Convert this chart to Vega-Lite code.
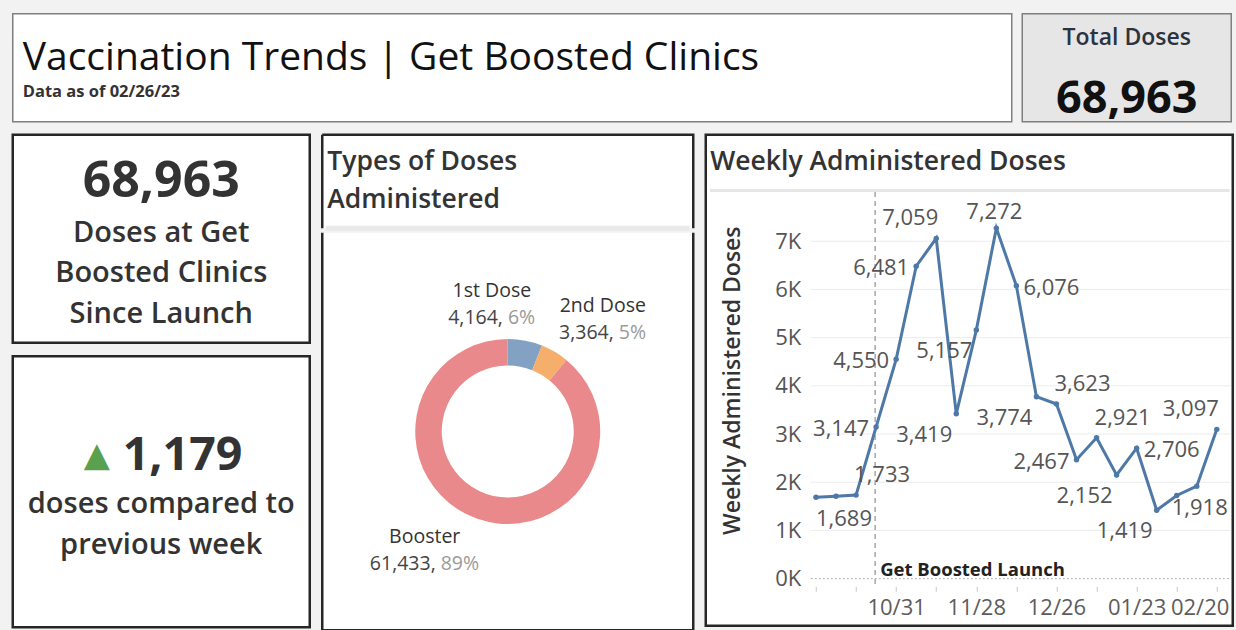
{
  "$schema": "https://vega.github.io/schema/vega-lite/v6.json",
  "background": "#f2f2f2",
  "padding": {"left": 10.75, "top": 12.75, "right": 5, "bottom": 5},
  "spacing": 10,
  "config": {
    "font": "Open Sans",
    "view": {"stroke": "#262626", "strokeWidth": 2.5, "fill": "white"},
    "title": {"anchor": "start", "frame": "group"}
  },
  "datasets": {
    "weekly": [
      {"week": "2022-10-03", "doses": 1689},
      {"week": "2022-10-10", "doses": 1710},
      {"week": "2022-10-17", "doses": 1733},
      {"week": "2022-10-24", "doses": 3147},
      {"week": "2022-10-31", "doses": 4550},
      {"week": "2022-11-07", "doses": 6481},
      {"week": "2022-11-14", "doses": 7059},
      {"week": "2022-11-21", "doses": 3419},
      {"week": "2022-11-28", "doses": 5157},
      {"week": "2022-12-05", "doses": 7272},
      {"week": "2022-12-12", "doses": 6076},
      {"week": "2022-12-19", "doses": 3774},
      {"week": "2022-12-26", "doses": 3623},
      {"week": "2023-01-02", "doses": 2467},
      {"week": "2023-01-09", "doses": 2921},
      {"week": "2023-01-16", "doses": 2152},
      {"week": "2023-01-23", "doses": 2706},
      {"week": "2023-01-30", "doses": 1419},
      {"week": "2023-02-06", "doses": 1725},
      {"week": "2023-02-13", "doses": 1918},
      {"week": "2023-02-20", "doses": 3097}
    ],
    "doseTypes": [
      {"dose": "1st Dose", "count": 4164},
      {"dose": "2nd Dose", "count": 3364},
      {"dose": "Booster", "count": 61433}
    ],
    "kpi": [{"total": 68963, "change": 1179}]
  },
  "vconcat": [
    {
      "hconcat": [
        {
          "width": 999,
          "height": 108,
          "view": {"stroke": "#7f7f7f", "strokeWidth": 1.5, "fill": "white"},
          "title": {
            "text": "Vaccination Trends | Get Boosted Clinics",
            "subtitle": "Data as of 02/26/23",
            "offset": -87,
            "dx": 10,
            "fontSize": 39,
            "fontWeight": 400,
            "color": "#111111",
            "subtitleFontSize": 16.5,
            "subtitleFontWeight": "bold",
            "subtitleColor": "#333333",
            "subtitlePadding": 6
          },
          "data": {"name": "kpi"},
          "mark": {"type": "text", "text": ""},
          "encoding": {}
        },
        {
          "width": 209,
          "height": 108,
          "view": {"stroke": "#7f7f7f", "strokeWidth": 1.5, "fill": "#e6e6e6"},
          "data": {"name": "kpi"},
          "layer": [
            {
              "mark": {"type": "text", "text": "Total Doses", "dy": -29.5, "fontSize": 23, "fontWeight": 600, "color": "#2b3340"},
              "encoding": {}
            },
            {
              "mark": {"type": "text", "dy": 31, "fontSize": 45, "fontWeight": "bold", "color": "#111111"},
              "encoding": {"text": {"field": "total", "type": "quantitative", "format": ","}}
            }
          ]
        }
      ],
      "spacing": 8.5
    },
    {
      "hconcat": [
        {
          "vconcat": [
            {
              "width": 297,
              "height": 208,
              "view": {"stroke": "#262626", "strokeWidth": 2.5, "fill": "white"},
              "data": {"name": "kpi"},
              "layer": [
                {
                  "mark": {"type": "text", "dy": -57, "fontSize": 50, "fontWeight": "bold", "color": "#333333"},
                  "encoding": {"text": {"field": "total", "type": "quantitative", "format": ","}}
                },
                {
                  "mark": {"type": "text", "text": "Doses at Get\nBoosted Clinics\nSince Launch", "lineBreak": "\n", "lineHeight": 40.5, "dy": -6, "fontSize": 29, "fontWeight": 600, "color": "#333333"},
                  "encoding": {}
                }
              ]
            },
            {
              "width": 297,
              "height": 271,
              "view": {"stroke": "#262626", "strokeWidth": 2.5, "fill": "white"},
              "data": {"name": "kpi"},
              "layer": [
                {
                  "mark": {"type": "text", "text": "▲", "font": "DejaVu Sans", "fontSize": 34, "color": "#59a14f", "dx": -64.5, "dy": -36},
                  "encoding": {}
                },
                {
                  "mark": {"type": "text", "align": "left", "dx": -38.5, "dy": -36, "fontSize": 46.5, "fontWeight": "bold", "color": "#333333"},
                  "encoding": {"text": {"field": "change", "type": "quantitative", "format": ","}}
                },
                {
                  "mark": {"type": "text", "text": "doses compared to\nprevious week", "lineBreak": "\n", "lineHeight": 41, "dy": 12, "fontSize": 29, "fontWeight": 600, "color": "#333333"},
                  "encoding": {}
                }
              ]
            }
          ],
          "spacing": 9.5
        },
        {
          "vconcat": [
            {
              "width": 371,
              "height": 93.5,
              "view": {"stroke": "#262626", "strokeWidth": 2.5, "fill": "white", "strokeDash": [464.5, 371, 93.5, 0]},
              "title": {"text": ["Types of Doses", "Administered"], "offset": -78.5, "dx": 5, "fontSize": 26.5, "fontWeight": 600, "color": "#333333", "lineHeight": 38},
              "data": {"values": [{}]},
              "mark": {"type": "rule", "color": "#e9e9e9", "strokeWidth": 5},
              "encoding": {
                "y": {"datum": 0, "type": "quantitative", "scale": {"domain": [0, 1]}, "axis": null},
                "x": {"datum": 0.01, "type": "quantitative", "scale": {"domain": [0, 1]}, "axis": null},
                "x2": {"datum": 0.99}
              }
            },
            {
              "width": 371,
              "height": 397.5,
              "view": {"stroke": "#262626", "strokeWidth": 2.5, "fill": "white", "strokeDash": [0, 371, 1166, 0]},
              "data": {"name": "doseTypes"},
              "transform": [{"joinaggregate": [{"op": "sum", "field": "count", "as": "total"}]}],
              "encoding": {
                "theta": {"field": "count", "type": "quantitative", "stack": true},
                "order": {"field": "dose", "type": "ordinal", "sort": "ascending"}
              },
              "layer": [
                {
                  "mark": {"type": "arc", "innerRadius": 66, "outerRadius": 92.5},
                  "encoding": {
                    "color": {"field": "dose", "type": "nominal", "scale": {"domain": ["1st Dose", "2nd Dose", "Booster"], "range": ["#83a1c2", "#f5af6b", "#ea898b"]}, "legend": null}
                  }
                },
                {
                  "mark": {"type": "text", "radius": 128, "dx": -40, "dy": -15, "fontSize": 19.5, "color": "#333333"},
                  "encoding": {"text": {"field": "dose"}, "opacity": {"condition": {"test": "datum.dose === '2nd Dose'", "value": 0}, "value": 1}}
                },
                {
                  "mark": {"type": "text", "radius": 128, "align": "right", "dx": -29, "dy": 12, "fontSize": 19.5, "color": "#444444", "text": {"expr": "format(datum.count, ',') + ','"}},
                  "encoding": {"opacity": {"condition": {"test": "datum.dose === '2nd Dose'", "value": 0}, "value": 1}}
                },
                {
                  "mark": {"type": "text", "radius": 128, "align": "left", "dx": -24, "dy": 12, "fontSize": 19.5, "color": "#9a9a9a", "text": {"expr": "format(datum.count / datum.total, '.0%')"}},
                  "encoding": {"opacity": {"condition": {"test": "datum.dose === '2nd Dose'", "value": 0}, "value": 1}}
                },
                {
                  "mark": {"type": "text", "radius": 130, "dx": 29, "dy": -14, "fontSize": 19.5, "color": "#333333"},
                  "encoding": {"text": {"field": "dose"}, "opacity": {"condition": {"test": "datum.dose === '2nd Dose'", "value": 1}, "value": 0}}
                },
                {
                  "mark": {"type": "text", "radius": 130, "align": "right", "dx": 40, "dy": 13, "fontSize": 19.5, "color": "#444444", "text": {"expr": "format(datum.count, ',') + ','"}},
                  "encoding": {"opacity": {"condition": {"test": "datum.dose === '2nd Dose'", "value": 1}, "value": 0}}
                },
                {
                  "mark": {"type": "text", "radius": 130, "align": "left", "dx": 45, "dy": 13, "fontSize": 19.5, "color": "#9a9a9a", "text": {"expr": "format(datum.count / datum.total, '.0%')"}},
                  "encoding": {"opacity": {"condition": {"test": "datum.dose === '2nd Dose'", "value": 1}, "value": 0}}
                }
              ]
            }
          ],
          "spacing": -2.5
        },
        {
          "width": 527,
          "height": 491,
          "view": {"stroke": "#262626", "strokeWidth": 2.5, "fill": "white"},
          "title": {"text": "Weekly Administered Doses", "offset": -40.5, "dx": 4.5, "fontSize": 26.5, "fontWeight": 600, "color": "#333333"},
          "layer": [
            {
              "data": {"values": [{"g": 1000}, {"g": 2000}, {"g": 3000}, {"g": 4000}, {"g": 5000}, {"g": 6000}, {"g": 7000}]},
              "mark": {"type": "rule", "color": "#ececec", "strokeWidth": 1},
              "encoding": {
                "y": {"field": "g", "type": "quantitative"},
                "x": {"datum": {"year": 2022, "month": 10, "date": 1, "hours": 5, "utc": true}, "type": "temporal", "scale": {"type": "utc"}},
                "x2": {"datum": {"year": 2023, "month": 2, "date": 24, "hours": 19, "utc": true}}
              }
            },
            {
              "data": {"values": [{}]},
              "mark": {"type": "rule", "color": "#b0b0b0", "strokeDash": [2, 2], "strokeWidth": 1},
              "encoding": {
                "y": {"datum": 0, "type": "quantitative"},
                "x": {"datum": {"year": 2022, "month": 10, "date": 1, "hours": 5, "utc": true}, "type": "temporal", "scale": {"type": "utc"}},
                "x2": {"datum": {"year": 2023, "month": 2, "date": 24, "hours": 19, "utc": true}}
              }
            },
            {
              "data": {"values": [{}]},
              "mark": {"type": "rule", "color": "#e6e6e6", "strokeWidth": 3},
              "encoding": {
                "y": {"datum": 8050, "type": "quantitative"},
                "x": {"datum": {"year": 2022, "month": 8, "date": 27, "utc": true}, "type": "temporal", "scale": {"type": "utc"}},
                "x2": {"datum": {"year": 2023, "month": 2, "date": 24, "hours": 12, "utc": true}}
              }
            },
            {
              "data": {"values": [{}]},
              "mark": {"type": "rule", "color": "#a6a6a6", "strokeDash": [5, 4], "strokeWidth": 1.5},
              "encoding": {
                "x": {"datum": {"year": 2022, "month": 10, "date": 23, "hours": 16, "utc": true}, "type": "temporal", "scale": {"type": "utc"}},
                "y": {"datum": 8020, "type": "quantitative"},
                "y2": {"datum": -130}
              }
            },
            {
              "data": {"values": [{}]},
              "mark": {"type": "text", "text": "Get Boosted Launch", "align": "left", "baseline": "alphabetic", "dx": 5, "dy": -3, "fontSize": 18.5, "fontWeight": "bold", "color": "#222222"},
              "encoding": {
                "x": {"datum": {"year": 2022, "month": 10, "date": 23, "hours": 16, "utc": true}, "type": "temporal", "scale": {"type": "utc"}},
                "y": {"datum": 0, "type": "quantitative"}
              }
            },
            {
              "data": {"name": "weekly"},
              "mark": {"type": "line", "color": "#4e79a7", "strokeWidth": 3, "point": {"filled": true, "size": 30, "color": "#4e79a7"}},
              "encoding": {
                "x": {
                  "field": "week",
                  "type": "temporal",
                  "scale": {"type": "utc", "domain": [{"year": 2022, "month": 8, "date": 25, "hours": 12, "utc": true}, {"year": 2023, "month": 2, "date": 25, "hours": 13, "minutes": 40, "utc": true}]},
                  "axis": {
                    "title": null,
                    "values": [
                      {"year": 2022, "month": 10, "date": 3, "utc": true},
                      {"year": 2022, "month": 10, "date": 10, "utc": true},
                      {"year": 2022, "month": 10, "date": 17, "utc": true},
                      {"year": 2022, "month": 10, "date": 24, "utc": true},
                      {"year": 2022, "month": 10, "date": 31, "utc": true},
                      {"year": 2022, "month": 11, "date": 7, "utc": true},
                      {"year": 2022, "month": 11, "date": 14, "utc": true},
                      {"year": 2022, "month": 11, "date": 21, "utc": true},
                      {"year": 2022, "month": 11, "date": 28, "utc": true},
                      {"year": 2022, "month": 12, "date": 5, "utc": true},
                      {"year": 2022, "month": 12, "date": 12, "utc": true},
                      {"year": 2022, "month": 12, "date": 19, "utc": true},
                      {"year": 2022, "month": 12, "date": 26, "utc": true},
                      {"year": 2023, "month": 1, "date": 2, "utc": true},
                      {"year": 2023, "month": 1, "date": 9, "utc": true},
                      {"year": 2023, "month": 1, "date": 16, "utc": true},
                      {"year": 2023, "month": 1, "date": 23, "utc": true},
                      {"year": 2023, "month": 1, "date": 30, "utc": true},
                      {"year": 2023, "month": 2, "date": 6, "utc": true},
                      {"year": 2023, "month": 2, "date": 13, "utc": true},
                      {"year": 2023, "month": 2, "date": 20, "utc": true}
                    ],
                    "labelExpr": "indexof(['10/31','11/28','12/26','01/23','02/20'], utcFormat(datum.value, '%m/%d')) >= 0 ? utcFormat(datum.value, '%m/%d') : ''",
                    "domain": false,
                    "grid": false,
                    "tickColor": "#c8c8c8",
                    "tickSize": 5,
                    "offset": -39.5,
                    "labelPadding": 6,
                    "labelFontSize": 22,
                    "labelColor": "#5c5c5c",
                    "labelFlush": 20,
                    "labelFlushOffset": 12,
                    "labelOverlap": false
                  }
                },
                "y": {
                  "field": "doses",
                  "type": "quantitative",
                  "scale": {"domain": [-977, 9209], "nice": false, "zero": false},
                  "axis": {
                    "title": "Weekly Administered Doses",
                    "values": [0, 1000, 2000, 3000, 4000, 5000, 6000, 7000],
                    "labelExpr": "(datum.value / 1000) + 'K'",
                    "domain": false,
                    "ticks": false,
                    "grid": false,
                    "offset": -104,
                    "labelPadding": 9,
                    "labelFontSize": 22,
                    "labelColor": "#555555",
                    "titleFontSize": 23,
                    "titleFontWeight": 600,
                    "titleColor": "#333333",
                    "titlePadding": 30
                  }
                }
              }
            },
            {
              "data": {"name": "weekly"},
              "transform": [{"filter": {"field": "doses", "oneOf": [6481, 4550, 3147, 2467]}}],
              "mark": {"type": "text", "align": "right", "dx": -7, "dy": 2, "fontSize": 22, "color": "#555555"},
              "encoding": {"x": {"field": "week", "type": "temporal"}, "y": {"field": "doses", "type": "quantitative"}, "text": {"field": "doses", "type": "quantitative", "format": ","}}
            },
            {
              "data": {"name": "weekly"},
              "transform": [{"filter": {"field": "doses", "oneOf": [6076, 2706]}}],
              "mark": {"type": "text", "align": "left", "dx": 7, "dy": 2, "fontSize": 22, "color": "#555555"},
              "encoding": {"x": {"field": "week", "type": "temporal"}, "y": {"field": "doses", "type": "quantitative"}, "text": {"field": "doses", "type": "quantitative", "format": ","}}
            },
            {
              "data": {"name": "weekly"},
              "transform": [{"filter": {"field": "doses", "oneOf": [7059, 3097]}}],
              "mark": {"type": "text", "dx": -26, "dy": -20, "fontSize": 22, "color": "#555555"},
              "encoding": {"x": {"field": "week", "type": "temporal"}, "y": {"field": "doses", "type": "quantitative"}, "text": {"field": "doses", "type": "quantitative", "format": ","}}
            },
            {
              "data": {"name": "weekly"},
              "transform": [{"filter": {"field": "doses", "oneOf": [7272]}}],
              "mark": {"type": "text", "dx": -2, "dy": -16, "fontSize": 22, "color": "#555555"},
              "encoding": {"x": {"field": "week", "type": "temporal"}, "y": {"field": "doses", "type": "quantitative"}, "text": {"field": "doses", "type": "quantitative", "format": ","}}
            },
            {
              "data": {"name": "weekly"},
              "transform": [{"filter": {"field": "doses", "oneOf": [1733, 3623, 2921]}}],
              "mark": {"type": "text", "dx": 26, "dy": -20, "fontSize": 22, "color": "#555555"},
              "encoding": {"x": {"field": "week", "type": "temporal"}, "y": {"field": "doses", "type": "quantitative"}, "text": {"field": "doses", "type": "quantitative", "format": ","}}
            },
            {
              "data": {"name": "weekly"},
              "transform": [{"filter": {"field": "doses", "oneOf": [5157, 3419, 3774, 2152, 1419]}}],
              "mark": {"type": "text", "dx": -32, "dy": 21, "fontSize": 22, "color": "#555555"},
              "encoding": {"x": {"field": "week", "type": "temporal"}, "y": {"field": "doses", "type": "quantitative"}, "text": {"field": "doses", "type": "quantitative", "format": ","}}
            },
            {
              "data": {"name": "weekly"},
              "transform": [{"filter": {"field": "doses", "oneOf": [1689]}}],
              "mark": {"type": "text", "dx": 28, "dy": 22, "fontSize": 22, "color": "#555555"},
              "encoding": {"x": {"field": "week", "type": "temporal"}, "y": {"field": "doses", "type": "quantitative"}, "text": {"field": "doses", "type": "quantitative", "format": ","}}
            },
            {
              "data": {"name": "weekly"},
              "transform": [{"filter": {"field": "doses", "oneOf": [1918]}}],
              "mark": {"type": "text", "dx": 3, "dy": 22, "fontSize": 22, "color": "#555555"},
              "encoding": {"x": {"field": "week", "type": "temporal"}, "y": {"field": "doses", "type": "quantitative"}, "text": {"field": "doses", "type": "quantitative", "format": ","}}
            }
          ]
        }
      ],
      "spacing": 8.5
    }
  ]
}
